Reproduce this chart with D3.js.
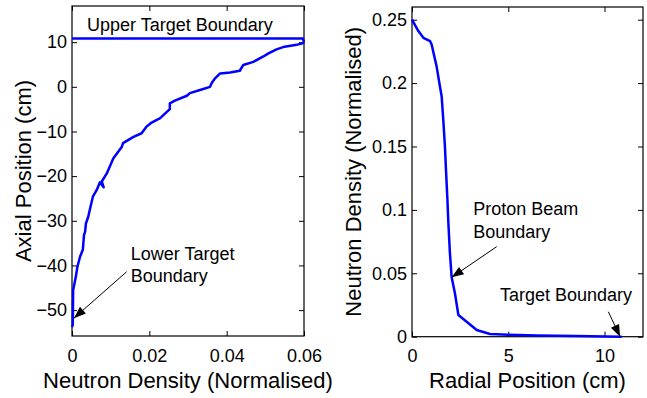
<!DOCTYPE html>
<html>
<head>
<meta charset="utf-8">
<script src="https://cdn.jsdelivr.net/npm/d3@7"></script>
<style>
  body { margin: 0; background: #fff; }
  text { font-family: "Liberation Sans", Arial, sans-serif; fill: #000; }
</style>
</head>
<body>
<svg id="chart" width="647" height="398"></svg>
<script>
// left panel: axial profile
const axialDensity = [0, 0.0002, 0.0003, 0.001, 0.0014, 0.0021, 0.0028, 0.0031, 0.0034, 0.0036, 0.0042, 0.0048,
  0.0054, 0.0064, 0.0072, 0.0082, 0.0077, 0.009, 0.0107, 0.012, 0.0129, 0.0132, 0.0159, 0.018, 0.0193,
  0.0206, 0.0228, 0.0253, 0.0253, 0.0266, 0.0297, 0.0305, 0.0331, 0.0357, 0.0361, 0.037, 0.0383, 0.0409, 0.0434,
  0.0443, 0.0469, 0.0495, 0.0508, 0.0529, 0.0546, 0.0581, 0.0598, 0.06];
const axialPosition = [-53.8, -53.3, -45.5, -42.5, -40.3, -38.0, -36.5, -33.2, -32.4, -30.6, -29.1, -26.8,
  -24.6, -23.1, -21.4, -22.5, -21.2, -19.4, -16.0, -14.5, -13.4, -12.6, -11.2, -10.4, -8.9,
  -8.0, -7.0, -5.0, -3.7, -3.1, -2.0, -1.4, -0.7, 0.0, 0.8, 1.9, 3.0, 3.2, 3.6,
  4.9, 5.6, 6.8, 7.5, 8.4, 8.9, 9.4, 9.8, 10.0];
const upperBoundaryX = [0, 0.0597, 0.06];
const upperBoundaryY = [10.85, 10.85, 10.0];

// right panel: radial profile
const radialPosition = [0, 0.33, 0.59, 0.94, 1.02, 1.28, 1.45, 1.54, 1.63, 1.71, 1.77, 1.84, 1.89, 1.97,
  2.06, 2.23, 2.41, 2.84, 3.36, 4.05, 5.0, 6.48, 8.5, 10.9];
const radialDensity = [0.25, 0.241, 0.2357, 0.233, 0.2304, 0.213, 0.1975, 0.1896, 0.170, 0.150, 0.130, 0.108,
  0.0896, 0.0659, 0.0469, 0.0343, 0.0171, 0.0118, 0.0053, 0.0021, 0.0016, 0.001, 0.0005, 0];

const leftXTicks = [0, 0.02, 0.04, 0.06];
const leftYTicks = [-50, -40, -30, -20, -10, 0, 10];
const rightXTicks = [0, 5, 10];
const rightYTicks = [0, 0.05, 0.1, 0.15, 0.2, 0.25];

const svg = d3.select("#chart");
const blue = "#0000ff";

function panel(xs, ys, xTicks, yTicks, xFmt, yFmt, xLabel, yLabel, yLabelX) {
  const [x0, x1] = xs.range();
  const [y0, y1] = ys.range();
  const g = svg.append("g");

  g.append("rect")
    .attr("x", x0).attr("y", y1)
    .attr("width", x1 - x0).attr("height", y0 - y1)
    .attr("fill", "none").attr("stroke", "#000").attr("stroke-width", 1.2);

  const styleAxis = (sel, size) => {
    sel.select(".domain").remove();
    sel.selectAll("line").attr("stroke", "#000");
    sel.selectAll("text").style("font-size", size + "px");
  };

  g.append("g").attr("transform", `translate(0,${y0})`)
    .call(d3.axisBottom(xs).tickValues(xTicks).tickFormat(xFmt).tickSizeInner(-5).tickSizeOuter(0).tickPadding(13))
    .call(s => styleAxis(s, 18));
  g.append("g").attr("transform", `translate(0,${y1})`)
    .call(d3.axisTop(xs).tickValues(xTicks).tickFormat("").tickSizeInner(-5).tickSizeOuter(0))
    .call(s => styleAxis(s, 18));
  g.append("g").attr("transform", `translate(${x0},0)`)
    .call(d3.axisLeft(ys).tickValues(yTicks).tickFormat(yFmt).tickSizeInner(-5).tickSizeOuter(0).tickPadding(5))
    .call(s => styleAxis(s, 18));
  g.append("g").attr("transform", `translate(${x1},0)`)
    .call(d3.axisRight(ys).tickValues(yTicks).tickFormat("").tickSizeInner(-5).tickSizeOuter(0))
    .call(s => styleAxis(s, 18));

  g.append("text")
    .attr("x", (x0 + x1) / 2).attr("y", 388)
    .attr("text-anchor", "middle").style("font-size", "22px")
    .text(xLabel);
  g.append("text")
    .attr("transform", `translate(${yLabelX},${(y0 + y1) / 2}) rotate(-90)`)
    .attr("text-anchor", "middle").style("font-size", "22px")
    .text(yLabel);
  return g;
}

function arrow(g, x1, y1, x2, y2) {
  g.append("line")
    .attr("x1", x1).attr("y1", y1).attr("x2", x2).attr("y2", y2)
    .attr("stroke", "#000").attr("stroke-width", 1);
  const a = Math.atan2(y2 - y1, x2 - x1);
  const len = 12, hw = 4.5;
  const bx = x2 - len * Math.cos(a), by = y2 - len * Math.sin(a);
  const pts = [
    [x2, y2],
    [bx + hw * Math.sin(a), by - hw * Math.cos(a)],
    [bx - hw * Math.sin(a), by + hw * Math.cos(a)]
  ];
  g.append("path").attr("d", "M" + pts.join("L") + "Z").attr("fill", "#000");
}

function multiText(g, x, y, lines, lh) {
  const t = g.append("text").attr("x", x).attr("y", y).style("font-size", "18px");
  lines.forEach((l, i) => t.append("tspan").attr("x", x).attr("dy", i ? lh : 0).text(l));
}

// ---- left panel
const xL = d3.scaleLinear().domain([0, 0.06]).range([72, 304]);
const yL = d3.scaleLinear().domain([-55.8, 18.1]).range([336, 6]);
const gL = panel(xL, yL, leftXTicks, leftYTicks, d => d === 0 ? "0" : d3.format(".2f")(d), d3.format("d"),
  "Neutron Density (Normalised)", "Axial Position (cm)", 31);

const lineL = d3.line().x(i => xL(axialDensity[i])).y(i => yL(axialPosition[i]));
gL.append("path").datum(d3.range(axialDensity.length)).attr("d", lineL)
  .attr("fill", "none").attr("stroke", blue).attr("stroke-width", 2.5).attr("stroke-linejoin", "round");
const lineU = d3.line().x(i => xL(upperBoundaryX[i])).y(i => yL(upperBoundaryY[i]));
gL.append("path").datum(d3.range(upperBoundaryX.length)).attr("d", lineU)
  .attr("fill", "none").attr("stroke", blue).attr("stroke-width", 2.5);

gL.append("text").attr("x", xL(0.0039)).attr("y", yL(12.6)).style("font-size", "18px").text("Upper Target Boundary");
multiText(gL, xL(0.0152), yL(-38.7), ["Lower Target", "Boundary"], 22);
arrow(gL, xL(0.01415), yL(-41.4), xL(0.0005), yL(-51.8));

// ---- right panel
const xR = d3.scaleLinear().domain([0, 12]).range([412, 643]);
const yR = d3.scaleLinear().domain([0, 0.26]).range([336.7, 7]);
const gR = panel(xR, yR, rightXTicks, rightYTicks, d3.format("d"), d => d === 0 ? "0" : String(d),
  "Radial Position (cm)", "Neutron Density (Normalised)", 361);

const lineR = d3.line().x(i => xR(radialPosition[i])).y(i => yR(radialDensity[i]));
gR.append("path").datum(d3.range(radialPosition.length)).attr("d", lineR)
  .attr("fill", "none").attr("stroke", blue).attr("stroke-width", 2.5).attr("stroke-linejoin", "round");

multiText(gR, xR(3.18), yR(0.0963), ["Proton Beam", "Boundary"], 23);
arrow(gR, xR(4.4), yR(0.071), xR(2.06), yR(0.0468));
gR.append("text").attr("x", xR(4.57)).attr("y", yR(0.028)).style("font-size", "18px").text("Target Boundary");
arrow(gR, xR(10.2), yR(0.0197), xR(10.81), yR(0));
</script>
</body>
</html>
